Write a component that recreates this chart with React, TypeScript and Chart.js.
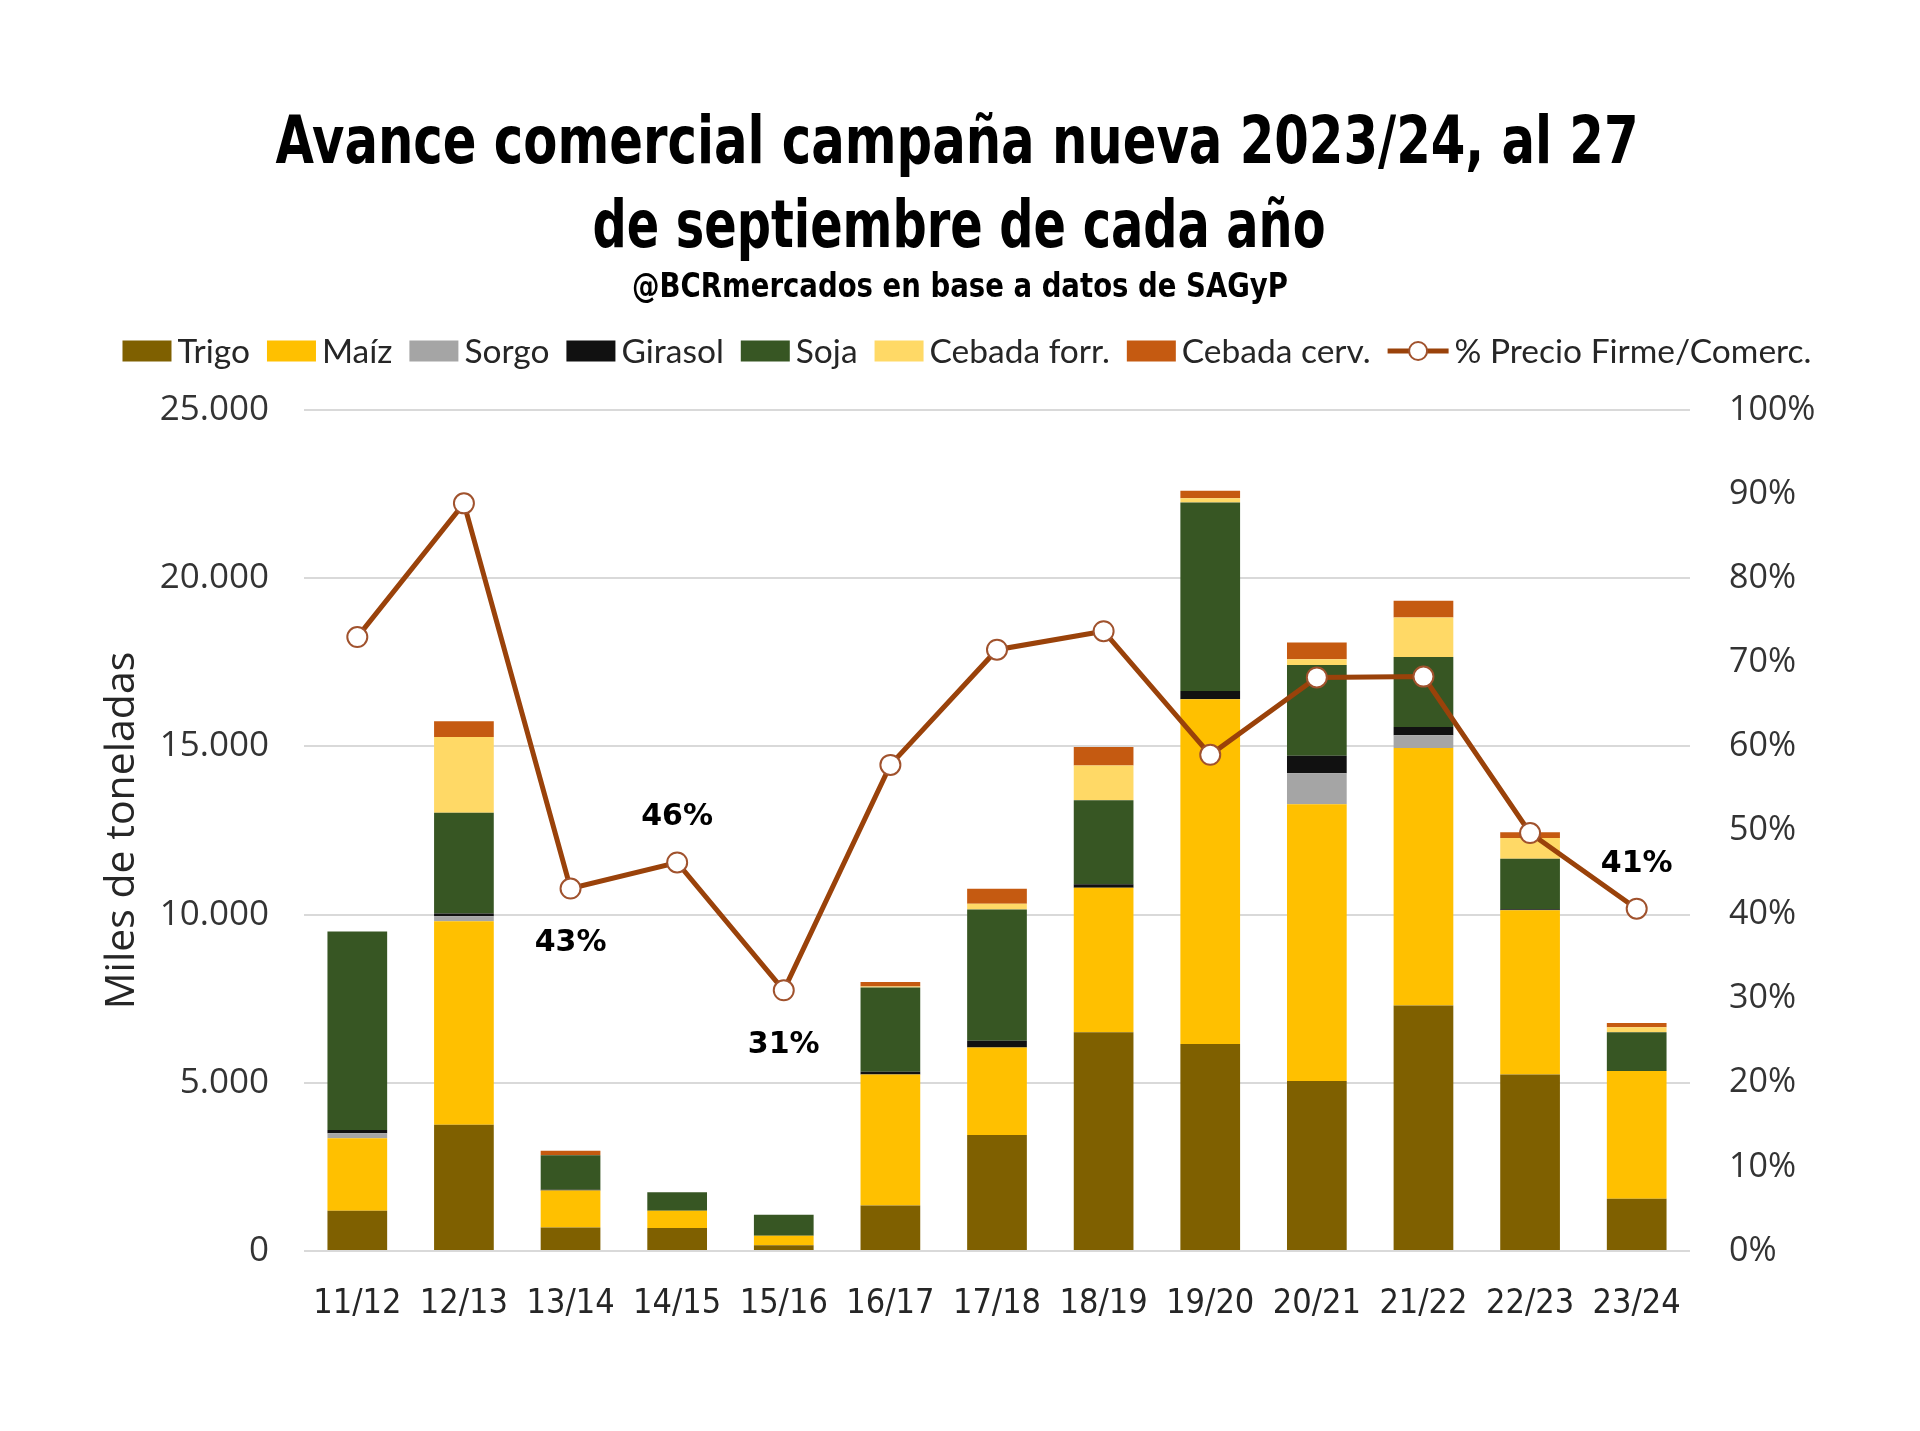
import React, { useEffect, useRef } from 'react';
import { Chart, registerables } from 'chart.js';

Chart.register(...registerables);

const titleLines = ['Avance comercial campaña nueva 2023/24, al 27', 'de septiembre de cada año'];
const subtitleText = '@BCRmercados en base a datos de SAGyP';

const categories = ['11/12', '12/13', '13/14', '14/15', '15/16', '16/17', '17/18', '18/19', '19/20', '20/21', '21/22', '22/23', '23/24'];
const trigo = [1200, 3750, 700, 680, 170, 1350, 3450, 6500, 6150, 5050, 7300, 5250, 1550];
const maiz = [2150, 6050, 1100, 520, 280, 3900, 2600, 4300, 10250, 8230, 7650, 4880, 3800];
const sorgo = [150, 150, 0, 0, 0, 0, 0, 0, 0, 920, 380, 0, 0];
const girasol = [100, 80, 20, 0, 0, 80, 200, 100, 250, 520, 250, 30, 0];
const soja = [5900, 3000, 1030, 550, 630, 2500, 3900, 2500, 5600, 2700, 2080, 1500, 1150];
const cebadaForr = [0, 2250, 0, 0, 0, 30, 170, 1030, 130, 170, 1170, 620, 150];
const cebadaCerv = [0, 470, 130, 0, 0, 140, 450, 550, 220, 500, 500, 170, 130];
const precioFirme = [73, 88.9, 43.1, 46.2, 31, 57.8, 71.5, 73.7, 59, 68.2, 68.3, 49.7, 40.7];

const leftTicks = [0, 5000, 10000, 15000, 20000, 25000];
const rightTicks = [0, 10, 20, 30, 40, 50, 60, 70, 80, 90, 100];

// which point labels are shown, and whether above or below the point
const pointLabels: { index: number; pos: 'above' | 'below' }[] = [
  { index: 2, pos: 'below' },
  { index: 3, pos: 'above' },
  { index: 4, pos: 'below' },
  { index: 12, pos: 'above' },
];

const COLORS = {
  trigo: '#7F6000',
  maiz: '#FFC000',
  sorgo: '#A5A5A5',
  girasol: '#111111',
  soja: '#375623',
  forr: '#FFD966',
  cerv: '#C55A11',
  line: '#9A420A',
};

const W = 1904;
const H = 1415;
const CONDENSED = '"DejaVu Sans Condensed", "DejaVu Sans", sans-serif';

function fmtThousands(v: number) {
  return String(v).replace(/\B(?=(\d{3})+(?!\d))/g, '.');
}

// header drawn with horizontally condensed text (narrow bold title face)
const headerPlugin = {
  id: 'headerPlugin',
  afterDraw(chart: any) {
    const ctx = chart.ctx;
    const specs = [
      { text: titleLines[0], size: 66, baseline: 155, width: 1363, cx: 949 },
      { text: titleLines[1], size: 66, baseline: 239, width: 733, cx: 951 },
      { text: subtitleText, size: 33, baseline: 289, width: 656, cx: 952 },
    ];
    ctx.save();
    ctx.fillStyle = '#000';
    ctx.textBaseline = 'alphabetic';
    ctx.textAlign = 'center';
    specs.forEach((s) => {
      ctx.font = `bold ${s.size}px ${CONDENSED}`;
      const m = ctx.measureText(s.text).width;
      const sx = s.width / m;
      ctx.save();
      ctx.translate(s.cx, s.baseline);
      ctx.scale(sx, 1);
      ctx.fillText(s.text, 0, 0);
      ctx.restore();
    });
    ctx.restore();
  },
};

const pointLabelPlugin = {
  id: 'pointLabelPlugin',
  afterDatasetsDraw(chart: any) {
    const idx = chart.data.datasets.findIndex((d: any) => d.type === 'line');
    if (idx < 0) return;
    const meta = chart.getDatasetMeta(idx);
    const data = chart.data.datasets[idx].data as number[];
    const ctx = chart.ctx;
    ctx.save();
    ctx.font = 'bold 30px "DejaVu Sans", Verdana, sans-serif';
    ctx.fillStyle = '#000';
    ctx.textAlign = 'center';
    ctx.textBaseline = 'middle';
    pointLabels.forEach(({ index, pos }) => {
      const el = meta.data[index];
      if (!el) return;
      const y = pos === 'above' ? el.y - 45 : el.y + 55;
      ctx.fillText(Math.round(data[index]) + '%', el.x, y);
    });
    ctx.restore();
  },
};

const customLegendPlugin = {
  id: 'customLegendPlugin',
  afterDraw(chart: any) {
    const ctx = chart.ctx;
    const items = chart.data.datasets.map((d: any) => ({
      label: d.label,
      color: d.type === 'line' ? d.borderColor : d.backgroundColor,
      isLine: d.type === 'line',
    }));
    const ordered = [...items.filter((i: any) => !i.isLine), ...items.filter((i: any) => i.isLine)];
    ctx.save();
    ctx.font = '33.5px Lato, "Open Sans", sans-serif';
    const boxW = 49;
    const boxH = 21;
    const lineW = 61;
    const gapBoxText = 6;
    const gapItems = 17;
    let total = 0;
    ordered.forEach((it: any, i: number) => {
      total += (it.isLine ? lineW : boxW) + gapBoxText + ctx.measureText(it.label).width;
      if (i < ordered.length - 1) total += gapItems;
    });
    const cy = 343;
    let x = 959 - total / 2;
    ctx.textBaseline = 'middle';
    ctx.textAlign = 'left';
    ordered.forEach((it: any) => {
      if (it.isLine) {
        ctx.strokeStyle = it.color;
        ctx.lineWidth = 5;
        ctx.beginPath();
        ctx.moveTo(x, cy);
        ctx.lineTo(x + lineW, cy);
        ctx.stroke();
        ctx.beginPath();
        ctx.arc(x + lineW / 2, cy, 9, 0, Math.PI * 2);
        ctx.fillStyle = '#fff';
        ctx.fill();
        ctx.lineWidth = 2;
        ctx.strokeStyle = '#A0522D';
        ctx.stroke();
        x += lineW + gapBoxText;
      } else {
        ctx.fillStyle = it.color;
        ctx.fillRect(x, cy - boxH / 2, boxW, boxH);
        x += boxW + gapBoxText;
      }
      ctx.fillStyle = '#262626';
      ctx.fillText(it.label, x, cy + 1);
      x += ctx.measureText(it.label).width + gapItems;
    });
    ctx.restore();
  },
};

export default function App() {
  const ref = useRef<HTMLCanvasElement | null>(null);

  useEffect(() => {
    if (!ref.current) return;
    const barDs = (label: string, data: number[], color: string) => ({
      type: 'bar' as const,
      label,
      data,
      backgroundColor: color,
      borderWidth: 0,
      yAxisID: 'y',
      stack: 's',
      order: 1,
      categoryPercentage: 0.56,
      barPercentage: 1,
    });

    const chart = new Chart(ref.current, {
      type: 'bar',
      data: {
        labels: categories,
        datasets: [
          barDs('Trigo', trigo, COLORS.trigo),
          barDs('Maíz', maiz, COLORS.maiz),
          barDs('Sorgo', sorgo, COLORS.sorgo),
          barDs('Girasol', girasol, COLORS.girasol),
          barDs('Soja', soja, COLORS.soja),
          barDs('Cebada forr.', cebadaForr, COLORS.forr),
          barDs('Cebada cerv.', cebadaCerv, COLORS.cerv),
          {
            type: 'line' as const,
            label: '% Precio Firme/Comerc.',
            data: precioFirme,
            yAxisID: 'y1',
            borderColor: COLORS.line,
            borderWidth: 5,
            pointRadius: 10,
            pointBackgroundColor: '#ffffff',
            pointBorderColor: '#A0522D',
            pointBorderWidth: 2,
            tension: 0,
            order: 0,
          } as any,
        ],
      },
      options: {
        responsive: false,
        animation: false,
        layout: { padding: { top: 402, left: 0, right: 0, bottom: 0 } },
        plugins: {
          legend: { display: false },
          tooltip: { enabled: false },
          title: { display: false },
          subtitle: { display: false },
        },
        scales: {
          x: {
            stacked: true,
            grid: { display: false, drawTicks: false },
            border: { display: false },
            ticks: {
              color: '#262626',
              padding: 33,
              font: { family: CONDENSED, size: 34 },
            },
            afterFit: (s: any) => {
              s.height = H - 1243;
            },
          },
          y: {
            type: 'linear',
            position: 'left',
            stacked: true,
            min: 0,
            max: 25000,
            afterBuildTicks: (s: any) => {
              s.ticks = leftTicks.map((v) => ({ value: v }));
            },
            grid: { color: '#D9D9D9', lineWidth: 2, drawTicks: false },
            border: { display: false },
            ticks: {
              color: '#333',
              padding: 35,
              font: { family: '"Open Sans", sans-serif', size: 35 },
              callback: (v: any) => fmtThousands(Number(v)),
            },
            title: {
              display: true,
              text: 'Miles de toneladas',
              color: '#262626',
              font: { family: '"Open Sans", sans-serif', size: 41, lineHeight: 1.2 },
              padding: { top: 90, bottom: 0 },
            },
            afterFit: (s: any) => {
              s.width = 296;
            },
          },
          y1: {
            type: 'linear',
            position: 'right',
            stacked: false,
            min: 0,
            max: 100,
            afterBuildTicks: (s: any) => {
              s.ticks = rightTicks.map((v) => ({ value: v }));
            },
            grid: { display: false, drawTicks: false },
            border: { display: false },
            ticks: {
              color: '#333',
              padding: 39,
              font: { family: '"Open Sans", sans-serif', size: 34 },
              callback: (v: any) => `${v}%`,
            },
            afterFit: (s: any) => {
              s.width = W - 1682;
            },
          },
        },
      },
      plugins: [headerPlugin, pointLabelPlugin, customLegendPlugin],
    });
    return () => chart.destroy();
  }, []);

  return (
    <div style={{ width: W, height: H, background: '#fff' }}>
      <canvas ref={ref} width={W} height={H} style={{ display: 'block', width: W, height: H }} />
    </div>
  );
}
